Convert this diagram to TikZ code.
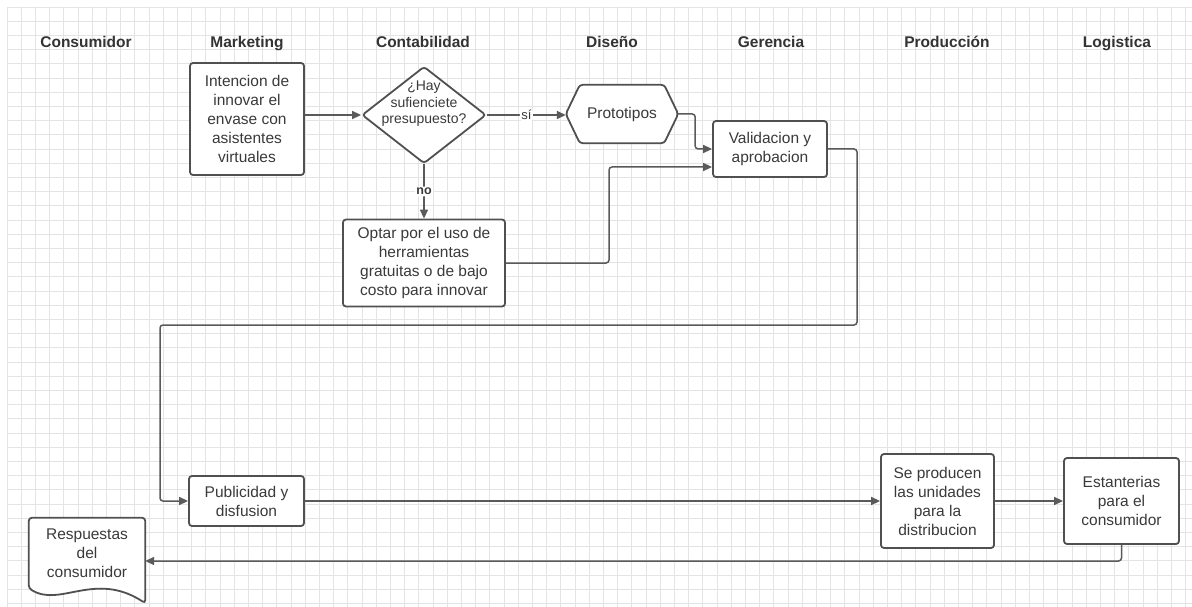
\documentclass[tikz,border=0pt]{standalone}
\usepackage{fontspec}
\setmainfont{Liberation Sans}
\usetikzlibrary{arrows.meta,shapes.geometric,calc}
\definecolor{bordc}{HTML}{505050}
\definecolor{linec}{HTML}{5A5A5A}
\definecolor{txtc}{HTML}{3A3A3A}
\definecolor{hdrc}{HTML}{333333}
\definecolor{gridc}{HTML}{E4E4E4}
\newcommand{\bxfont}{\fontsize{15.5}{19}\selectfont}
\newcommand{\smfont}{\fontsize{14}{16.5}\selectfont}
\begin{document}
\begin{tikzpicture}[x=1pt,y=-1pt,
  hdr/.style={font=\bfseries\bxfont, text=hdrc, inner sep=0, anchor=base},
  box/.style={draw=bordc, line width=1.8pt, rounded corners=3pt, fill=white, text=txtc, align=center, font=\bxfont, inner sep=0},
  shp/.style={draw=bordc, line width=1.8pt, rounded corners=3pt, fill=white},
  conn/.style={draw=linec, line width=1.5pt, rounded corners=3pt, -{Triangle[length=9pt,width=8pt]}},
  lbl/.style={fill=white, inner sep=1.5pt, text=txtc, font=\fontsize{13}{15}\selectfont},
  lblb/.style={fill=white, inner sep=1.5pt, text=txtc, font=\bfseries\fontsize{12.5}{15}\selectfont},
  gridline/.style={draw=gridc, line width=0.7pt}]
\useasboundingbox (0,0) rectangle (1192,607);
\fill[white] (0,0) rectangle (1192,607);
% grid
\foreach \i in {0,...,83} { \draw[gridline] ({7+14.2*\i},7) -- ({7+14.2*\i},607); }
\foreach \j in {0,...,42} { \draw[gridline] (7,{7+14.2*\j}) -- (1192,{7+14.2*\j}); }

% headers
\node[hdr] (h1) at (86,47.5) {Consumidor};
\node[hdr] (h2) at (247,47.5) {Marketing};
\node[hdr] (h3) at (423,47.5) {Contabilidad};
\node[hdr] (h4) at (612,47.5) {Diseño};
\node[hdr] (h5) at (771,47.5) {Gerencia};
\node[hdr] (h6) at (947,47.5) {Producción};
\node[hdr] (h7) at (1117,47.5) {Logistica};

% nodes
\node[box, minimum width=114pt, minimum height=112pt] (int) at (247,119)
  {Intencion de\\innovar el\\envase con\\asistentes\\virtuales};
\node[shp, diamond, minimum width=124pt, minimum height=97pt, inner sep=0,
  label={[font=\smfont, text=txtc, align=center, yshift=11pt]center:{¿Hay\\sufienciete\\presupuesto?}}] (dia) at (424,115) {};
\node[minimum width=112pt, minimum height=58pt, inner sep=0, text=txtc, font=\bxfont] (proto) at (622,114) {};
\draw[shp] (proto.west) -- ([xshift=14pt]proto.north west) -- ([xshift=-14pt]proto.north east)
  -- (proto.east) -- ([xshift=-14pt]proto.south east) -- ([xshift=14pt]proto.south west) -- cycle;
\node[text=txtc, font=\bxfont] at (proto.center) {Prototipos};
\node[box, minimum width=114pt, minimum height=56pt] (val) at (770,149) {Validacion y\\aprobacion};
\node[box, minimum width=162pt, minimum height=87pt] (opt) at (424,263)
  {Optar por el uso de\\herramientas\\gratuitas o de bajo\\costo para innovar};
\node[box, minimum width=115pt, minimum height=50pt] (pub) at (246.5,501) {Publicidad y\\disfusion};
\node[box, minimum width=113pt, minimum height=94pt] (prod) at (937.5,501)
  {Se producen\\las unidades\\para la\\distribucion};
\node[box, minimum width=115pt, minimum height=86pt] (est) at (1121.5,501)
  {Estanterias\\para el\\consumidor};
\node[minimum width=116pt, minimum height=70pt, inner sep=0] (resp) at (87,553) {};
\draw[shp] (resp.south west) -- (resp.north west) -- (resp.north east) -- ([yshift=-15pt]resp.south east)
  .. controls ($(resp.south west)+(66,-18)$) and ($(resp.south west)+(31,20)$) .. (resp.south west) -- cycle;
\node[text=txtc, font=\bxfont, align=center, inner sep=0] at (resp.center) {Respuestas\\del\\consumidor};

% connectors
\coordinate (j2) at (609,167);
\coordinate (c1) at (857,325);
\coordinate (c2) at (160,325);
\draw[conn] (int.east |- dia.west) -- (dia.west);
\draw[conn] (dia.east) -- node[lbl]{sí} (dia.east -| proto.west);
\draw[conn] (dia.south) -- node[lblb]{no} (opt.north);
\draw[conn] (proto.east) -- ++(17,0) |- (val.west);
\draw[conn] (opt.east) -| (j2) -- (j2 -| val.west);
\draw[conn] (val.east) -| (c1) -- (c2) |- (pub.west);
\draw[conn] (pub.east) -- (prod.west);
\draw[conn] (prod.east) -- (est.west);
\draw[conn] (est.south) |- ([yshift=-8pt]resp.east);
\end{tikzpicture}
\end{document}
